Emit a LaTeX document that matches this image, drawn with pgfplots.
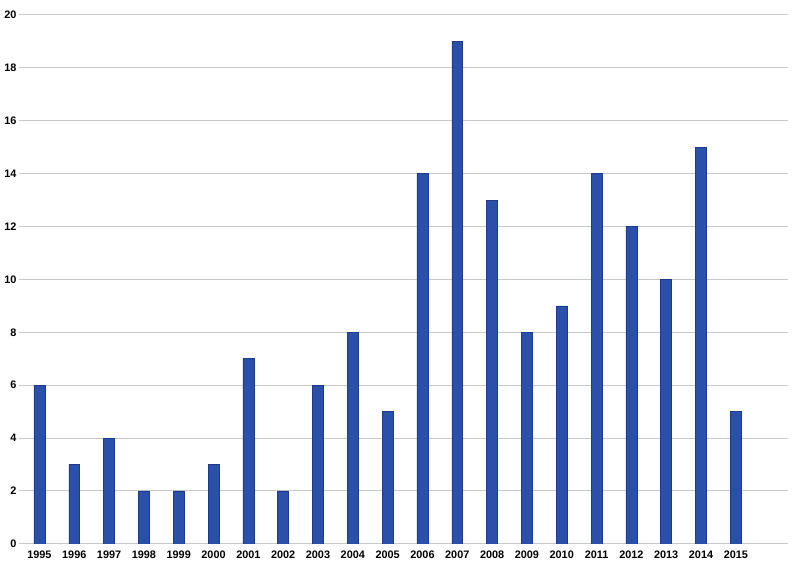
\documentclass[border=0pt]{standalone}
\usepackage{pgfplots}
\pgfplotsset{compat=1.18}
\usepackage{fontspec}
\setmainfont{Liberation Sans}
\definecolor{barblue}{RGB}{43,80,170}
\definecolor{baredge}{RGB}{30,58,140}
\definecolor{gridgray}{RGB}{200,200,200}

\begin{document}
\begin{tikzpicture}
\begin{axis}[
    scale only axis,
    width=580.5pt, height=399pt,
    xmin=-0.6, xmax=21.5,
    ymin=0, ymax=20,
    ytick={0,2,...,20},
    xtick={0,...,20},
    xticklabels={1995,1996,1997,1998,1999,2000,2001,2002,2003,2004,2005,2006,2007,2008,2009,2010,2011,2012,2013,2014,2015},
    axis line style={draw=none},
    major tick length=0pt,
    ymajorgrids,
    grid style={gridgray, line width=0.8pt},
    tick label style={font=\fontsize{8.2}{9}\selectfont\bfseries},
    /pgf/number format/assume math mode=true,
    yticklabel style={xshift=2pt},
    xticklabel style={yshift=-1.5pt},
    ybar, bar width=8.25pt,
]
\addplot[fill=barblue, draw=baredge, line width=0.4pt] coordinates {
(0,6) (1,3) (2,4) (3,2) (4,2) (5,3) (6,7) (7,2) (8,6) (9,8) (10,5)
(11,14) (12,19) (13,13) (14,8) (15,9) (16,14) (17,12) (18,10) (19,15) (20,5)
};
\end{axis}
\path[use as bounding box] (current axis.south west) ++(-10.5pt,-12pt) rectangle ([shift={(9pt,11.25pt)}]current axis.north east);
\end{tikzpicture}
\end{document}
